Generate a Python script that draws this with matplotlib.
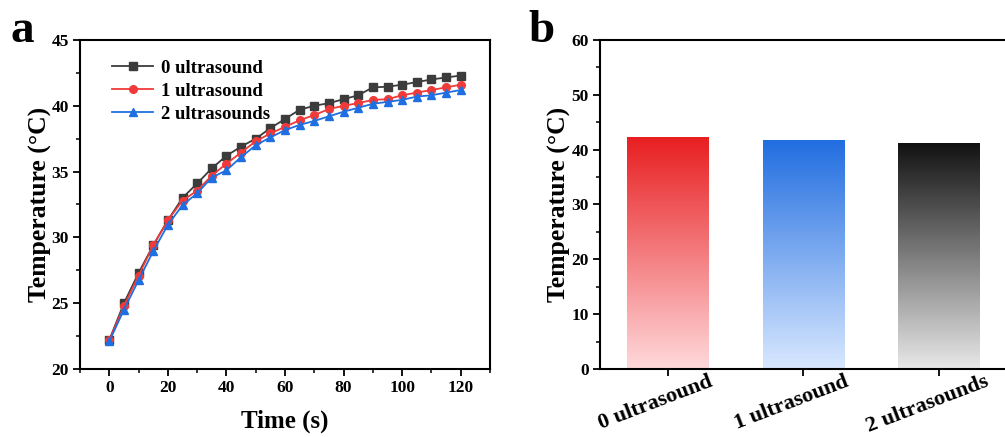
import numpy as np
import matplotlib
matplotlib.use("Agg")
import matplotlib.pyplot as plt
import matplotlib.transforms as mtransforms
from matplotlib.colors import LinearSegmentedColormap
from matplotlib.ticker import MultipleLocator

plt.rcParams['font.family'] = ['Liberation Serif', 'DejaVu Serif']
plt.rcParams['font.weight'] = 'bold'
plt.rcParams['mathtext.default'] = 'regular'

# ---- data ----
time_s = [0, 5, 10, 15, 20, 25, 30, 35, 40, 45, 50, 55, 60,
          65, 70, 75, 80, 85, 90, 95, 100, 105, 110, 115, 120]
temp_0us = [22.2, 25.0, 27.3, 29.4, 31.3, 33.0, 34.1, 35.25, 36.2, 36.9, 37.5, 38.3, 39.0,
            39.7, 40.0, 40.2, 40.5, 40.8, 41.4, 41.45, 41.6, 41.8, 42.0, 42.15, 42.3]
temp_1us = [22.2, 24.8, 27.1, 29.4, 31.3, 32.8, 33.55, 34.7, 35.6, 36.45, 37.3, 37.9, 38.4,
            38.9, 39.3, 39.75, 40.0, 40.2, 40.45, 40.5, 40.8, 41.0, 41.2, 41.4, 41.6]
temp_2us = [22.1, 24.5, 26.75, 28.95, 30.95, 32.45, 33.35, 34.55, 35.1, 36.1, 37.0, 37.6, 38.15,
            38.55, 38.85, 39.2, 39.55, 39.85, 40.15, 40.3, 40.45, 40.7, 40.8, 41.0, 41.2]
series_labels = ['0 ultrasound', '1 ultrasound', '2 ultrasounds']

bar_categories = ['0 ultrasound', '1 ultrasound', '2 ultrasounds']
bar_values = [42.3, 41.6, 41.2]

# ---- figure ----
fig = plt.figure(figsize=(10.05, 4.37), dpi=100)
ax1 = fig.add_axes([0.0796, 0.1556, 0.408, 0.7529])
ax2 = fig.add_axes([0.597, 0.1556, 0.405, 0.7529])

tick_fs = 12.5
label_fs = 18.5

# Panel a
ax1.plot(time_s, temp_0us, '-s', color='#3c3c3c', markerfacecolor='#3c3c3c',
         markeredgecolor='#3c3c3c', ms=5.5, lw=1.3, label=series_labels[0])
ax1.plot(time_s, temp_1us, '-o', color='#f03a3a', markerfacecolor='#f03a3a',
         markeredgecolor='#f03a3a', ms=5.5, lw=1.3, label=series_labels[1])
ax1.plot(time_s, temp_2us, '-^', color='#1f6fe0', markerfacecolor='#1f6fe0',
         markeredgecolor='#1f6fe0', ms=6, lw=1.3, label=series_labels[2])
ax1.set_xlim(-10, 130)
ax1.set_ylim(20, 45)
ax1.xaxis.set_major_locator(MultipleLocator(20))
ax1.xaxis.set_minor_locator(MultipleLocator(10))
ax1.yaxis.set_major_locator(MultipleLocator(5))
ax1.yaxis.set_minor_locator(MultipleLocator(2.5))
ax1.set_xlabel('Time (s)', fontsize=18, fontweight='bold', labelpad=10)
ax1.set_ylabel('Temperature (°C)', fontsize=label_fs, fontweight='bold', labelpad=0)
leg = ax1.legend(loc='upper left', bbox_to_anchor=(0.042, 0.985), frameon=False,
                 fontsize=13.5, handlelength=2.2, handletextpad=0.4, labelspacing=0.3,
                 borderaxespad=0.4)
for t in leg.get_texts():
    t.set_fontweight('bold')

# Panel b
x = np.arange(len(bar_categories))
width = 0.6
grads = [((0.91, 0.12, 0.13), (1.0, 0.85, 0.86)),
         ((0.13, 0.43, 0.88), (0.85, 0.91, 1.0)),
         ((0.07, 0.07, 0.07), (0.91, 0.91, 0.91))]
bars = ax2.bar(x, bar_values, width=width, color='none', edgecolor='none')
grad = np.linspace(1, 0, 256).reshape(-1, 1)
for b, (top, bot) in zip(bars, grads):
    cmap = LinearSegmentedColormap.from_list('g', [bot, top])
    x0, y0 = b.get_x(), b.get_y()
    ax2.imshow(grad, cmap=cmap, aspect='auto', vmin=0, vmax=1,
               extent=[x0, x0 + b.get_width(), y0, y0 + b.get_height()], zorder=2)
ax2.set_xlim(-0.5, 2.5)
ax2.set_ylim(0, 60)
ax2.set_xticks(x)
ax2.set_xticklabels(bar_categories, rotation=21, ha='center', fontsize=16, fontweight='bold')
ax2.yaxis.set_major_locator(MultipleLocator(10))
ax2.yaxis.set_minor_locator(MultipleLocator(5))
ax2.set_ylabel('Temperature (°C)', fontsize=label_fs, fontweight='bold', labelpad=0.5)

for ax in (ax1, ax2):
    for s in ax.spines.values():
        s.set_linewidth(1.5)
    ax.tick_params(which='major', direction='out', length=5, width=1.3,
                   labelsize=tick_fs, pad=3)
    ax.tick_params(which='minor', direction='out', length=3, width=1.1)
    for lab in ax.get_xticklabels() + ax.get_yticklabels():
        lab.set_fontweight('bold')
ax2.tick_params(axis='x', which='major', labelsize=16, pad=0)
ax2.tick_params(axis='x', which='minor', length=0)
offset = mtransforms.ScaledTranslation(-0.12, 0.04, fig.dpi_scale_trans)
for lab in ax2.get_xticklabels():
    lab.set_transform(lab.get_transform() + offset)

fig.text(0.010, 0.905, 'a', fontsize=34, fontweight='bold')
fig.text(0.526, 0.905, 'b', fontsize=34, fontweight='bold')

fig.savefig('out.png', dpi=100)
